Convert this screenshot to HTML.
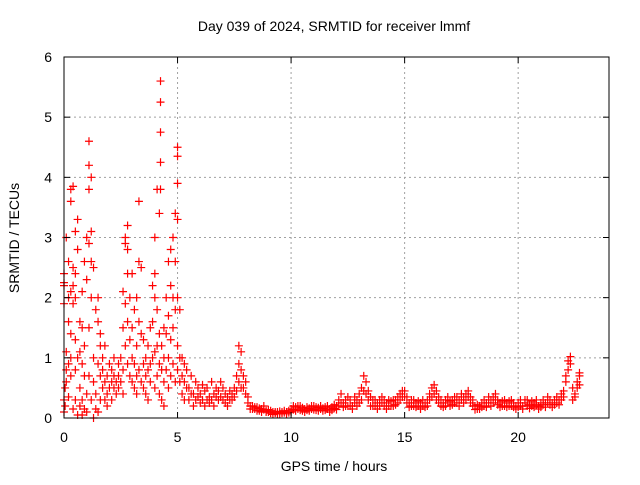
<!DOCTYPE html>
<html><head><meta charset="utf-8"><style>
body{margin:0;background:#fff;}
svg text{font-family:"Liberation Sans",sans-serif;font-size:14px;fill:#000;}
</style></head><body>
<svg id="chart" width="640" height="480" viewBox="0 0 640 480" xmlns="http://www.w3.org/2000/svg">
<rect width="640" height="480" fill="#fff"/>
<text x="334" y="31" text-anchor="middle">Day 039 of 2024, SRMTID for receiver lmmf</text>
<text transform="translate(19,238) rotate(-90)" text-anchor="middle">SRMTID / TECUs</text>
<text x="334" y="471" text-anchor="middle">GPS time / hours</text>
<g id="grid"></g><g id="marks"></g><g id="axes"></g>
</svg>
<script>
const xTicks=[0,5,10,15,20];
const yTicks=[0,1,2,3,4,5,6];
const earlyPts=[
[0.0,2.25,2.2,0.3,0.1,1.9,2.4],[0.05,0.5,0.2],[0.1,3.0,1.1,0.6,0.8],[0.2,1.6,2.0,0.9,0.35,2.6],
[0.3,3.8,3.6,2.1,1.4,0.7,1.0],[0.4,3.85,2.5,2.2,1.9,0.15],[0.5,3.1,2.4,2.0,1.3,0.8,0.3],[0.6,3.3,2.8,1.0,0.05],
[0.7,1.6,1.1,0.5,0.2],[0.8,2.1,1.5,0.9,0.3,0.05],[0.9,2.6,1.2,0.7,0.15],[1.0,3.0,2.3,0.4,0.1],
[1.1,4.6,4.2,3.8,2.9,1.5,0.7],[1.2,4.0,3.1,2.6,2.0,0.3],[1.3,2.5,1.0,0.6,0.0],[1.4,1.8,0.4,0.15],
[1.5,2.0,1.6,0.9,0.1],[1.6,1.4,1.2,0.7,0.3],[1.7,1.0,0.8,0.5],[1.8,1.2,0.6,0.3],[1.9,0.7,0.4,0.2],
[2.0,0.9,0.5],[2.1,0.6,0.8,0.3],[2.2,0.5,0.7,1.0],[2.3,0.4,0.6],[2.4,0.7,0.9,0.5],[2.5,1.0,0.6],
[2.6,2.1,1.5,0.8,0.4],[2.7,3.0,2.9,1.9,1.2],[2.8,3.2,2.8,2.4,1.6,0.9],[2.9,2.0,1.3,0.7],
[3.0,2.4,1.5,1.0,0.6],[3.1,1.8,0.9,0.5],[3.2,2.0,1.2,0.7,0.4],[3.3,3.6,2.6,1.6,0.8],[3.4,2.5,1.4,0.6],
[3.5,1.3,0.9,0.5],[3.6,1.0,0.7,0.4],[3.7,1.2,0.8,0.3],[3.8,1.5,0.9,0.6],[3.9,2.2,1.6,1.0],
[4.0,3.0,2.4,2.0,1.1,0.5],[4.1,3.8,1.8,1.2,0.7],[4.2,3.4,1.4,0.9,0.4],[4.25,5.6,5.25,4.75,4.25,3.8],
[4.3,1.2,0.8,0.3],[4.4,1.5,1.0,0.6,0.2],[4.5,2.0,1.4,0.8],[4.6,2.6,1.7,1.0,0.5],[4.7,2.8,2.2,1.3,0.7],
[4.8,3.0,2.0,1.5,0.9],[4.9,3.4,2.6,1.8,0.6],[5.0,4.5,4.35,3.9,3.3,2.0,1.2,0.8],[5.1,1.8,1.0,0.6],
[5.2,1.0,0.7,0.4],[5.3,0.9,0.6,0.3],[5.4,0.8,0.5]];
const latePts=[
[5.5,0.5,0.3],[5.6,0.7,0.4],[5.7,0.4,0.2],[5.8,0.6,0.3],[5.9,0.5,0.35],[6.0,0.4,0.25],[6.1,0.55,0.3],
[6.2,0.45,0.2],[6.3,0.5,0.3],[6.4,0.35,0.25],[6.5,0.6,0.3],[6.6,0.4,0.2],[6.7,0.5,0.35],[6.8,0.3,0.45],
[6.9,0.6,0.35],[7.0,0.5,0.3],[7.1,0.4,0.25],[7.2,0.35,0.2],[7.3,0.45,0.3],[7.4,0.4,0.3],[7.5,0.5,0.35],
[7.6,0.7,0.45],[7.7,1.2,0.9,0.6],[7.8,1.1,0.8,0.5],[7.9,0.7,0.5],[8.0,0.6,0.4],[8.1,0.35,0.25],[8.2,0.2,0.15],
[8.3,0.2,0.15],[8.4,0.15,0.18],[8.5,0.18,0.12],[8.6,0.12,0.16],[8.7,0.15,0.1],[8.8,0.2,0.14],[8.9,0.12,0.1],[9.0,0.1,0.14],
[9.1,0.12,0.08],[9.2,0.1,0.06],[9.3,0.08,0.1],[9.4,0.1,0.07],[9.5,0.07,0.11],[9.6,0.1,0.08],[9.7,0.12,0.09],[9.8,0.1,0.07],[9.9,0.09,0.12],[10.0,0.15,0.1],
[10.1,0.2,0.14],[10.2,0.18,0.12],[10.3,0.15,0.2],[10.4,0.2,0.13],[10.5,0.12,0.17],[10.6,0.15,0.1],[10.7,0.18,0.13],[10.8,0.12,0.16],[10.9,0.15,0.2],[11.0,0.2,0.14],
[11.1,0.13,0.18],[11.2,0.17,0.12],[11.3,0.15,0.2],[11.4,0.12,0.16],[11.5,0.18,0.13],[11.6,0.2,0.15],[11.7,0.15,0.1],[11.8,0.13,0.18],[11.9,0.22,0.16],[12.0,0.2,0.14],
[12.1,0.3,0.2],[12.2,0.4,0.25],[12.3,0.25,0.18],[12.4,0.2,0.3],[12.5,0.35,0.2],[12.6,0.3,0.2],[12.7,0.2,0.15],[12.8,0.25,0.35],[12.9,0.3,0.2],[13.0,0.4,0.25],
[13.1,0.5,0.3],[13.2,0.7,0.45],[13.3,0.6,0.4],[13.4,0.45,0.3],[13.5,0.35,0.2],
[13.6,0.3,0.2],[13.7,0.2,0.3],[13.8,0.25,0.15],[13.9,0.3,0.2],[14.0,0.35,0.25],[14.1,0.2,0.3],[14.2,0.25,0.15],[14.3,0.3,0.2],[14.4,0.28,0.2],[14.5,0.2,0.3],[14.6,0.3,0.22],[14.7,0.35,0.25],[14.8,0.4,0.3],[14.9,0.45,0.35],
[15.0,0.45,0.35],[15.1,0.35,0.25],[15.2,0.25,0.18],[15.3,0.2,0.3],[15.4,0.3,0.2],[15.5,0.25,0.18],[15.6,0.2,0.28],[15.7,0.25,0.15],[15.8,0.3,0.2],[15.9,0.25,0.18],[16.0,0.3,0.2],
[16.1,0.4,0.3],[16.2,0.5,0.35],[16.3,0.55,0.4],[16.4,0.45,0.3],[16.5,0.35,0.25],
[16.6,0.3,0.2],[16.7,0.25,0.18],[16.8,0.3,0.2],[16.9,0.35,0.25],[17.0,0.28,0.2],[17.1,0.3,0.22],[17.2,0.25,0.35],[17.3,0.35,0.25],[17.4,0.3,0.2],[17.5,0.4,0.3],[17.6,0.35,0.25],
[17.7,0.4,0.3],[17.8,0.45,0.35],[17.9,0.35,0.25],[18.0,0.3,0.2],[18.1,0.2,0.14],[18.2,0.15,0.22],
[18.3,0.2,0.15],[18.4,0.25,0.18],[18.5,0.3,0.2],[18.6,0.25,0.18],[18.7,0.35,0.25],[18.8,0.3,0.2],[18.9,0.35,0.25],[19.0,0.4,0.3],
[19.1,0.3,0.22],[19.2,0.25,0.18],[19.3,0.2,0.28],[19.4,0.3,0.2],[19.5,0.25,0.18],[19.6,0.2,0.28],[19.7,0.3,0.2],[19.8,0.25,0.18],[19.9,0.2,0.15],[20.0,0.25,0.18],
[20.1,0.3,0.2],[20.2,0.2,0.15],[20.3,0.25,0.3],[20.4,0.3,0.2],[20.5,0.22,0.16],[20.6,0.28,0.2],[20.7,0.25,0.18],[20.8,0.3,0.22],[20.9,0.2,0.15],[21.0,0.25,0.18],
[21.1,0.3,0.22],[21.2,0.25,0.18],[21.3,0.35,0.25],[21.4,0.3,0.22],[21.5,0.25,0.18],[21.6,0.3,0.22],[21.7,0.35,0.25],[21.8,0.3,0.22],[21.9,0.4,0.3],[22.0,0.45,0.35],
[22.1,0.6,0.7],[22.2,0.8,0.95],[22.3,1.02,0.9],[22.4,0.5,0.3],[22.5,0.35,0.4],[22.6,0.5,0.6],[22.7,0.7,0.75,0.55]];

const L=64,R=609,T=57,B=418,XMAX=24,YMAX=6;
function xs(t){return L+(R-L)*t/XMAX;}
function ys(v){return B-(B-T)*v/YMAX;}
const NS="http://www.w3.org/2000/svg";
function mk(tag,attrs,parent){const e=document.createElementNS(NS,tag);for(const k in attrs)e.setAttribute(k,attrs[k]);parent.appendChild(e);return e;}
const grid=document.getElementById('grid'),axes=document.getElementById('axes'),marks=document.getElementById('marks');
xTicks.forEach(t=>{
  const x=xs(t);
  if(t>0){const g=mk('line',{x1:x,y1:T,x2:x,y2:B,stroke:'#a0a0a0','stroke-dasharray':'2,3'},grid);
  
  }
  mk('line',{x1:x,y1:B,x2:x,y2:B-6,stroke:'#000'},axes);
  mk('line',{x1:x,y1:T,x2:x,y2:T+6,stroke:'#000'},axes);
  const lb=mk('text',{x:x,y:B+24,'text-anchor':'middle'},axes);lb.textContent=t;
  
  
});
yTicks.forEach(v=>{
  const y=ys(v);
  if(v>0&&v<YMAX){const g=mk('line',{x1:L,y1:y,x2:R,y2:y,stroke:'#a0a0a0','stroke-dasharray':'2,3'},grid);
  
  }
  mk('line',{x1:L,y1:y,x2:L+6,y2:y,stroke:'#000'},axes);
  mk('line',{x1:R,y1:y,x2:R-6,y2:y,stroke:'#000'},axes);
  const lb=mk('text',{x:L-12,y:y+5,'text-anchor':'end'},axes);lb.textContent=v;
  
  
});
const frame=mk('rect',{x:L,y:T,width:R-L,height:B-T,fill:'none',stroke:'#000'},axes);


function plot(arr){
  arr.forEach(row=>{
    const x=xs(row[0]);
    for(let i=1;i<row.length;i++){
      const y=ys(row[i]);
      const p=mk('path',{d:`M${x-4},${y}H${x+4}M${x},${y-4}V${y+4}`,stroke:'#ff0000','stroke-width':1.2,fill:'none'},marks);
      
      
    }
  });
}
plot(earlyPts);plot(latePts);
</script>
</body></html>
